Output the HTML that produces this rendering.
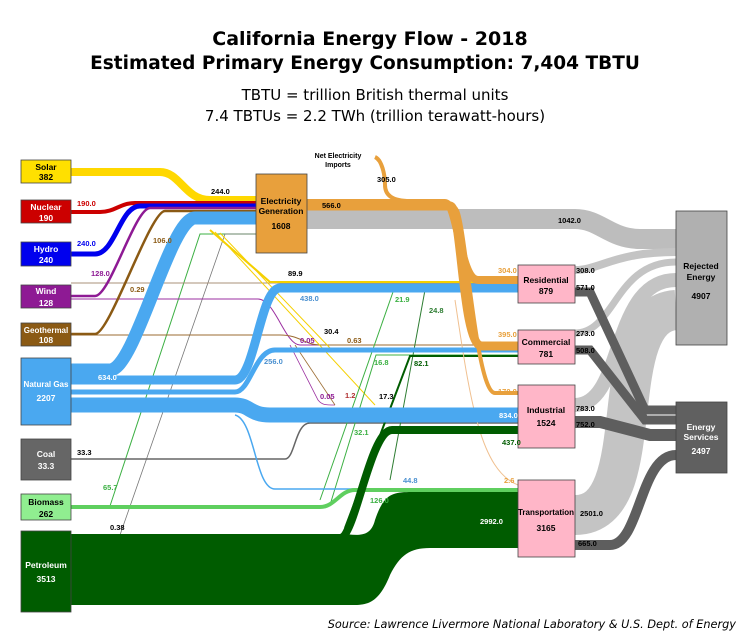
<!DOCTYPE html>
<html><head><meta charset="utf-8"><style>
body{margin:0;background:#fff;}
svg{display:block;font-family:"Liberation Sans",Arial,sans-serif;}
.t{font-weight:bold;font-size:7.5px;}
.b{font-weight:bold;font-size:8.5px;text-anchor:middle;}
</style></head><body>
<svg width="750" height="635" viewBox="0 0 750 635" xmlns="http://www.w3.org/2000/svg">
<rect width="750" height="635" fill="#fff"/>
<text x="370" y="45" text-anchor="middle" font-size="19" font-weight="bold" font-family="DejaVu Sans,sans-serif">California Energy Flow - 2018</text>
<text x="365" y="69" text-anchor="middle" font-size="18.5" font-weight="bold" font-family="DejaVu Sans,sans-serif">Estimated Primary Energy Consumption: 7,404 TBTU</text>
<text x="375" y="100" text-anchor="middle" font-size="15" font-family="DejaVu Sans,sans-serif">TBTU = trillion British thermal units</text>
<text x="375" y="121" text-anchor="middle" font-size="15" font-family="DejaVu Sans,sans-serif">7.4 TBTUs = 2.2 TWh (trillion terawatt-hours)</text>

<g fill="none">
<path d="M307,219 H575 C600,219 610,239 640,239 H676" stroke="#bdbdbd" stroke-width="20"/>
<path d="M575,270 C600,270 615,252 676,252" stroke="#c4c4c4" stroke-width="8"/>
<path d="M575,333 C615,333 615,262 676,262" stroke="#c4c4c4" stroke-width="7"/>
<path d="M575,405 C625,405 610,280 676,280" stroke="#c4c4c4" stroke-width="14"/>
<path d="M575,515 C655,515 600,315 676,310" stroke="#c4c4c4" stroke-width="40"/>
<path d="M575,292 H590 L645,410 H676" stroke="#5e5e5e" stroke-width="9"/>
<path d="M575,350 H590 L645,420 H676" stroke="#5e5e5e" stroke-width="9"/>
<path d="M575,422 H600 L650,435 H676" stroke="#5e5e5e" stroke-width="12"/>
<path d="M575,545 H610 C640,545 640,455 676,455" stroke="#5e5e5e" stroke-width="10"/>

<path d="M110,506 L200,234 H256" stroke="#3cb043" stroke-width="1"/>
<path d="M120,535 L225,234 H256" stroke="#777" stroke-width="0.8"/>
<path d="M71,283 H515" stroke="#a89078" stroke-width="1"/>
<path d="M71,299 H258 C275,299 285,345 300,345 H518" stroke="#9b2fa0" stroke-width="1"/>
<path d="M71,335 H280 C300,335 305,345 320,345 H518" stroke="#9b6b30" stroke-width="1"/>
<path d="M290,345 L318,400 C322,405 325,405 335,405" stroke="#9b2fa0" stroke-width="0.8"/>
<path d="M295,345 L335,405" stroke="#9b6b30" stroke-width="0.8"/>
<path d="M210,230 L270,282 H518" stroke="#f5d000" stroke-width="2"/>
<path d="M215,232 L375,405" stroke="#f5d000" stroke-width="1"/>
<path d="M220,233 L330,348" stroke="#f5d000" stroke-width="1"/>
<path d="M71,459 H285 C295,459 295,423 310,423 H518" stroke="#666" stroke-width="1.5"/>
<path d="M320,500 L393,292 H518" stroke="#3cb043" stroke-width="1"/>
<path d="M330,505 L376,355 H518" stroke="#3cb043" stroke-width="1"/>
<path d="M390,480 L425,290 H518" stroke="#2e7d32" stroke-width="1"/>
<path d="M345,528 L410,356 H518" stroke="#005c00" stroke-width="2"/>
<path d="M235,415 C255,420 255,489 275,489 H518" stroke="#4aa8f0" stroke-width="1.5"/>
<path d="M455,300 C470,400 480,470 518,485" stroke="#f0c090" stroke-width="1"/>

<path d="M71,172 H160 C180,172 185,200 210,200 H256" stroke="#ffd800" stroke-width="8"/>
<path d="M71,212 H100 C115,212 120,203 135,203 H256" stroke="#cc0000" stroke-width="4"/>
<path d="M71,254 H95 C115,254 120,206 140,206 H256" stroke="#0000ee" stroke-width="5"/>
<path d="M71,296 H95 C110,296 135,208 150,208 H256" stroke="#8e1a94" stroke-width="2.5"/>
<path d="M71,334 H95 C110,334 150,211 165,211 H256" stroke="#8b5a14" stroke-width="2.5"/>
<path d="M71,370 H110 C135,370 170,218 195,218 H256" stroke="#4aa8f0" stroke-width="13"/>
<path d="M71,380 H235 C255,380 260,288 280,288 H518" stroke="#4aa8f0" stroke-width="9"/>
<path d="M71,392 H235 C250,392 255,350 275,350 H518" stroke="#4aa8f0" stroke-width="5"/>
<path d="M71,405 H235 C250,405 250,415 270,415 H518" stroke="#4aa8f0" stroke-width="15"/>
<path d="M71,507 H320 C335,507 340,490 355,490 H518" stroke="#5fcf5f" stroke-width="4"/>
<path d="M71,538 H340 C355,538 370,430 392,430 H518" stroke="#005c00" stroke-width="8"/>

<path d="M375,157 C382,160 385,175 385,185 C385,195 392,201 410,201" stroke="#e8a03c" stroke-width="4"/>
<path d="M307,203 H445 C458,203 460,280 478,280 H518" stroke="#e8a03c" stroke-width="8"/>
<path d="M307,206 H450 C462,206 462,346 482,346 H518" stroke="#e8a03c" stroke-width="9"/>
<path d="M307,208 H455 C465,208 475,393 495,393 H518" stroke="#e8a03c" stroke-width="4"/>
</g>
<path d="M71,534 H340 C355,534 370,540 375,520 C385,490 395,492 420,492 H518 V548 H430 C410,548 400,555 390,575 C380,600 370,605 355,605 H71 Z" fill="#005c00"/>

<g stroke="#444" stroke-width="0.8">
<rect x="21" y="160" width="50" height="23" fill="#ffe000"/>
<rect x="21" y="200" width="50" height="23" fill="#cc0000"/>
<rect x="21" y="242" width="50" height="24" fill="#0000ee"/>
<rect x="21" y="285" width="50" height="23" fill="#8e1a94"/>
<rect x="21" y="323" width="50" height="23" fill="#8b5a14"/>
<rect x="21" y="358" width="50" height="67" fill="#4aa8f0"/>
<rect x="21" y="439" width="50" height="41" fill="#666"/>
<rect x="21" y="494" width="50" height="26" fill="#90ee90"/>
<rect x="21" y="531" width="50" height="81" fill="#005c00"/>
<rect x="256" y="174" width="51" height="79" fill="#e8a03c"/>
<rect x="518" y="265" width="57" height="38" fill="#ffb6c8"/>
<rect x="518" y="330" width="57" height="34" fill="#ffb6c8"/>
<rect x="518" y="385" width="57" height="63" fill="#ffb6c8"/>
<rect x="518" y="480" width="57" height="77" fill="#ffb6c8"/>
<rect x="676" y="211" width="51" height="134" fill="#b0b0b0"/>
<rect x="676" y="402" width="51" height="71" fill="#606060"/>
</g>
<g class="b">
<text x="46" y="170">Solar</text><text x="46" y="180">382</text>
<text x="46" y="210" fill="#fff">Nuclear</text><text x="46" y="221" fill="#fff">190</text>
<text x="46" y="252" fill="#fff">Hydro</text><text x="46" y="263" fill="#fff">240</text>
<text x="46" y="294" fill="#fff">Wind</text><text x="46" y="306" fill="#fff">128</text>
<text x="46" y="333" fill="#fff" font-size="8">Geothermal</text><text x="46" y="343" fill="#fff">108</text>
<text x="46" y="387" fill="#fff" font-size="8">Natural Gas</text><text x="46" y="401" fill="#fff">2207</text>
<text x="46" y="457" fill="#fff">Coal</text><text x="46" y="469" fill="#fff">33.3</text>
<text x="46" y="505">Biomass</text><text x="46" y="517">262</text>
<text x="46" y="568" fill="#fff">Petroleum</text><text x="46" y="582" fill="#fff">3513</text>
<text x="281" y="204">Electricity</text><text x="281" y="214">Generation</text><text x="281" y="229">1608</text>
<text x="546" y="283">Residential</text><text x="546" y="294">879</text>
<text x="546" y="345">Commercial</text><text x="546" y="357">781</text>
<text x="546" y="413">Industrial</text><text x="546" y="426">1524</text>
<text x="546" y="515" font-size="8">Transportation</text><text x="546" y="531">3165</text>
<text x="701" y="269">Rejected</text><text x="701" y="280">Energy</text><text x="701" y="299">4907</text>
<text x="701" y="430" fill="#fff">Energy</text><text x="701" y="440" fill="#fff">Services</text><text x="701" y="454" fill="#fff">2497</text>
</g>
<g class="t">
<text x="338" y="158" font-size="7" text-anchor="middle">Net Electricity</text>
<text x="338" y="167" font-size="7" text-anchor="middle">Imports</text>
<text x="377" y="182">305.0</text>
<text x="211" y="194">244.0</text>
<text x="322" y="208">566.0</text>
<text x="558" y="223">1042.0</text>
<text x="77" y="206" fill="#cc0000">190.0</text>
<text x="77" y="246" fill="#0000ee">240.0</text>
<text x="91" y="276" fill="#8e1a94">128.0</text>
<text x="153" y="243" fill="#8b5a14">106.0</text>
<text x="130" y="292" fill="#8b5a14">0.29</text>
<text x="288" y="276">89.9</text>
<text x="300" y="301" fill="#4a90d0">438.0</text>
<text x="324" y="334">30.4</text>
<text x="300" y="343" fill="#8e1a94">0.05</text>
<text x="347" y="343" fill="#8b5a14">0.63</text>
<text x="264" y="364" fill="#4a90d0">256.0</text>
<text x="320" y="399" fill="#8e1a94">0.05</text>
<text x="345" y="398" fill="#b03030">1.2</text>
<text x="379" y="399">17.3</text>
<text x="395" y="302" fill="#3cb043">21.9</text>
<text x="429" y="313" fill="#2e7d32">24.8</text>
<text x="374" y="365" fill="#3cb043">16.8</text>
<text x="414" y="366" fill="#005c00">82.1</text>
<text x="98" y="380" fill="#fff">634.0</text>
<text x="77" y="455">33.3</text>
<text x="354" y="435" fill="#3cb043">32.1</text>
<text x="103" y="490" fill="#3cb043">65.7</text>
<text x="110" y="530">0.38</text>
<text x="403" y="483" fill="#4a90d0">44.8</text>
<text x="370" y="503" fill="#3cb043">126.0</text>
<text x="480" y="524" fill="#fff">2992.0</text>
<text x="498" y="273" fill="#e8a03c">304.0</text>
<text x="498" y="337" fill="#e8a03c">395.0</text>
<text x="498" y="394" fill="#e8a03c">170.0</text>
<text x="499" y="418" fill="#fff">834.0</text>
<text x="502" y="445" fill="#005c00">437.0</text>
<text x="504" y="483" fill="#e8a03c">2.6</text>
<text x="576" y="273">308.0</text>
<text x="576" y="290">571.0</text>
<text x="576" y="336">273.0</text>
<text x="576" y="353">508.0</text>
<text x="576" y="411">783.0</text>
<text x="576" y="427">752.0</text>
<text x="580" y="516">2501.0</text>
<text x="578" y="546">665.0</text>
</g>
<text x="736" y="628" text-anchor="end" font-size="11.3" font-style="italic" font-family="DejaVu Sans,sans-serif">Source: Lawrence Livermore National Laboratory &amp; U.S. Dept. of Energy</text>
</svg>
</body></html>
